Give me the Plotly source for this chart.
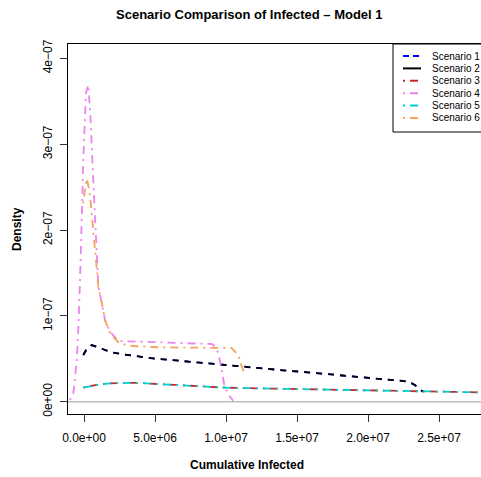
import plotly.graph_objects as go

# ---------------- data (x in people, y in density) ----------------
s12_x = [-0.05e6, 0.14e6, 0.54e6, 1.25e6, 1.95e6, 2.72e6, 3.47e6, 4.3e6, 5.12e6, 5.94e6, 6.64e6,
         7.7e6, 8.4e6, 9.5e6, 10.75e6, 12.16e6, 13.8e6, 15.5e6, 17.09e6, 18.8e6, 20.4e6, 21.5e6,
         22.4e6, 22.9e6, 23.3e6, 23.6e6, 23.9e6]
s12_y = [5.44e-8, 6.0e-8, 6.6e-8, 6.2e-8, 5.75e-8, 5.52e-8, 5.32e-8, 5.17e-8, 5.0e-8, 4.86e-8, 4.74e-8,
         4.62e-8, 4.52e-8, 4.35e-8, 4.15e-8, 3.9e-8, 3.69e-8, 3.46e-8, 3.23e-8, 2.97e-8, 2.7e-8, 2.55e-8,
         2.42e-8, 2.3e-8, 1.94e-8, 1.5e-8, 1.15e-8]

s35_x = [-0.05e6, 0.89e6, 1.83e6, 2.77e6, 3.71e6, 5.12e6, 6.29e6, 7.7e6, 10.05e6, 12.16e6, 14.75e6,
         17.0e6, 19.4e6, 21.8e6, 24.1e6, 26.0e6, 28.5e6]
s35_y = [1.65e-8, 1.95e-8, 2.14e-8, 2.2e-8, 2.2e-8, 2.06e-8, 1.95e-8, 1.77e-8, 1.63e-8, 1.56e-8, 1.48e-8,
         1.4e-8, 1.33e-8, 1.25e-8, 1.17e-8, 1.13e-8, 1.07e-8]

s4_x = [-0.99e6, -0.75e6, -0.51e6, -0.40e6, -0.28e6, -0.23e6, -0.12e6, -0.05e6, 0.14e6, 0.30e6,
        0.47e6, 0.61e6, 0.70e6, 0.77e6, 0.85e6, 0.94e6, 1.01e6, 1.25e6, 1.48e6, 1.83e6, 2.42e6,
        3.94e6, 5.35e6, 7.46e6, 9.0e6, 9.23e6, 9.46e6, 9.7e6, 9.88e6, 10.12e6, 10.5e6]
s4_y = [0.2e-8, 0.98e-8, 4.86e-8, 8.35e-8, 14.2e-8, 16.6e-8, 23.5e-8, 28.2e-8, 36.0e-8, 36.9e-8,
        32.8e-8, 27.3e-8, 24.3e-8, 21.2e-8, 17.7e-8, 15.0e-8, 13.4e-8, 11.5e-8, 9.5e-8, 8.15e-8, 7.07e-8,
        6.99e-8, 6.92e-8, 6.8e-8, 6.72e-8, 6.4e-8, 5.64e-8, 3.69e-8, 1.95e-8, 0.98e-8, 0.1e-8]

s6_x = [-0.05e6, 0.0e6, 0.19e6, 0.37e6, 0.49e6, 0.59e6, 0.70e6, 0.77e6, 0.89e6, 1.01e6, 1.25e6,
        1.48e6, 1.83e6, 2.42e6, 3.0e6, 3.47e6, 5.35e6, 8.0e6, 10.0e6, 10.4e6, 10.87e6, 11.03e6, 11.27e6]
s6_y = [23.1e-8, 23.9e-8, 26.0e-8, 24.7e-8, 22.9e-8, 21.0e-8, 19.0e-8, 17.1e-8, 15.3e-8, 13.4e-8, 11.5e-8,
        9.5e-8, 8.0e-8, 6.9e-8, 6.6e-8, 6.49e-8, 6.33e-8, 6.3e-8, 6.3e-8, 6.25e-8, 5.44e-8, 4.47e-8, 3.4e-8]

names = ["Scenario 1", "Scenario 2", "Scenario 3", "Scenario 4", "Scenario 5", "Scenario 6"]
colors = ["#0000FF", "#000000", "#CD2626", "#EE82EE", "#00CED1", "#F4A460"]
series_x = [s12_x, s12_x, s35_x, s4_x, s35_x, s6_x]
series_y = [s12_y, s12_y, s35_y, s4_y, s35_y, s6_y]

x_ticks = [0, 5e6, 1e7, 1.5e7, 2e7, 2.5e7]
x_ticktext = ["0.0e+00", "5.0e+06", "1.0e+07", "1.5e+07", "2.0e+07", "2.5e+07"]
y_ticks = [0, 1e-7, 2e-7, 3e-7, 4e-7]
y_ticktext = ["0e+00", "1e\u221207", "2e\u221207", "3e\u221207", "4e\u221207"]

# ---------------- styling ----------------
W, H = 481, 477
L, T, R, B = 68, 44, 0, 63
PW, PH = W - L - R, H - T - B
FONT = "Liberation Sans, Arial, sans-serif"
LW = 1.8
dash_main = "6px,6px"
dash_dd = "2px,5px,8px,5px"
dash_dd_shift = "8px,5px,2px,5px"
dashes = [dash_main, dash_main, dash_dd, dash_dd, dash_dd_shift, dash_dd]


def px(xp):
    return (xp - L) / PW


def py(yp):
    return (H - B - yp) / PH


fig = go.Figure()
for nm, c, xs, ys, d in zip(names, colors, series_x, series_y, dashes):
    fig.add_trace(go.Scatter(x=xs, y=ys, mode="lines", name=nm,
                             line=dict(color=c, width=LW, dash=d),
                             showlegend=False))

shapes = [
    dict(type="line", xref="paper", x0=0, x1=1, yref="y", y0=0, y1=0,
         line=dict(color="#BEBEBE", width=1.5), layer="below"),
    dict(type="rect", xref="paper", yref="paper", x0=px(393), x1=px(485), y0=py(132), y1=py(44),
         line=dict(color="black", width=1), fillcolor="white"),
]
annotations = []
for i, (nm, c, d) in enumerate(zip(names, colors, ["6px,4px", "solid", dash_dd, dash_dd, dash_dd, dash_dd])):
    yy = 56 + 12.4 * i
    shapes.append(dict(type="line", xref="paper", yref="paper", x0=px(403), x1=px(421),
                       y0=py(yy), y1=py(yy), line=dict(color=c, width=2, dash=d)))
    annotations.append(dict(text=nm, xref="paper", yref="paper", x=px(430), y=py(yy),
                            xanchor="left", yanchor="middle", showarrow=False,
                            font=dict(family=FONT, size=10, color="black")))

annotations += [
    dict(text="<b>Scenario Comparison of Infected \u2013 Model 1</b>", xref="paper", yref="paper",
         x=px(249), y=py(15), xanchor="center", yanchor="middle", showarrow=False,
         font=dict(family=FONT, size=13, color="black")),
    dict(text="<b>Cumulative Infected</b>", xref="paper", yref="paper",
         x=px(247), y=py(465), xanchor="center", yanchor="middle", showarrow=False,
         font=dict(family=FONT, size=12, color="black")),
    dict(text="<b>Density</b>", xref="paper", yref="paper", textangle=-90,
         x=px(17), y=0.5, xanchor="center", yanchor="middle", showarrow=False,
         font=dict(family=FONT, size=12, color="black")),
]

x_per_px = 1e6 / 14.2
y_per_px = 1e-7 / 85.85
x0 = (L - 84) * x_per_px
x1 = (W - 84) * x_per_px
y0 = -(414 - 401.7) * y_per_px
y1 = (401.7 - 44) * y_per_px

fig.update_layout(
    width=W, height=H, margin=dict(l=L, r=R, t=T, b=B, pad=0),
    paper_bgcolor="white", plot_bgcolor="white", showlegend=False,
    font=dict(family=FONT, size=12, color="black"),
    shapes=shapes, annotations=annotations,
    xaxis=dict(range=[x0, x1], tickvals=x_ticks, ticktext=x_ticktext, showgrid=False, zeroline=False,
               showline=True, linecolor="black", linewidth=1, mirror=True,
               ticks="outside", ticklen=7, tickcolor="#333333", tickwidth=1, ticklabelstandoff=6,
               tickfont=dict(family=FONT, size=12, color="black")),
    yaxis=dict(range=[y0, y1], tickvals=y_ticks, ticktext=y_ticktext, showgrid=False, zeroline=False,
               showline=True, linecolor="black", linewidth=1, mirror=True,
               ticks="outside", ticklen=7, tickcolor="#333333", tickwidth=1, tickangle=-90,
               ticklabelstandoff=3,
               tickfont=dict(family=FONT, size=12, color="black")),
)

fig.write_html("out.html", config={"displayModeBar": False},
               post_script="document.body.style.margin='0';document.body.style.overflow='hidden';")
